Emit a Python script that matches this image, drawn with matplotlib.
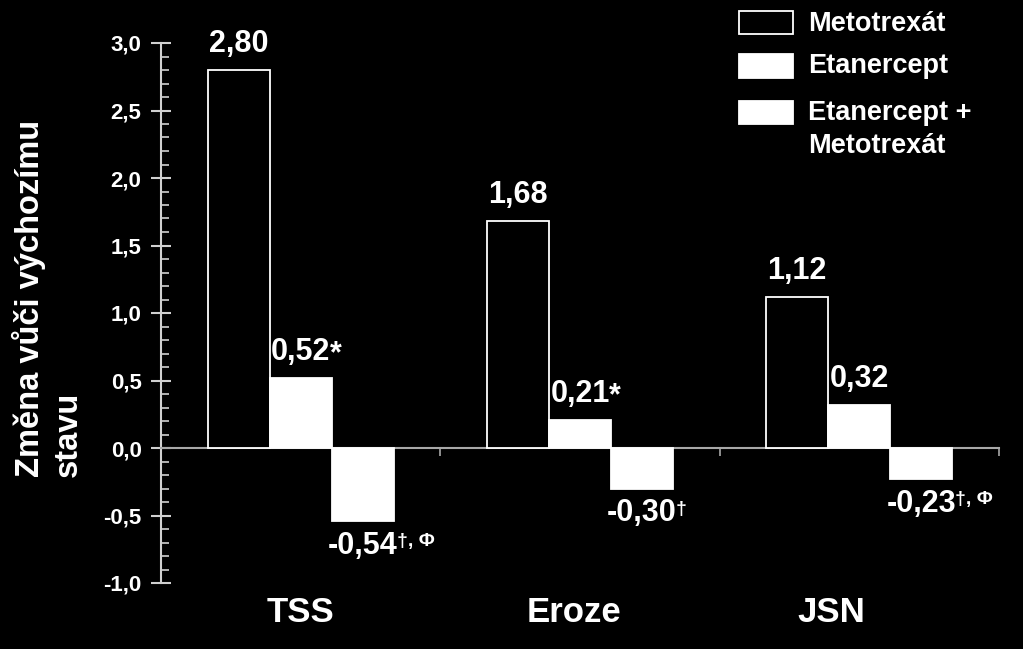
import matplotlib
matplotlib.use("Agg")
import matplotlib.pyplot as plt
from matplotlib.patches import Rectangle
from matplotlib.ticker import MultipleLocator, FuncFormatter
import numpy as np

# ---------------- data ----------------
categories = ["TSS", "Eroze", "JSN"]
series_names = ["Metotrexát", "Etanercept", "Etanercept +\nMetotrexát"]
metotrexat = [2.80, 1.68, 1.12]
etanercept = [0.52, 0.21, 0.32]
etanercept_mtx = [-0.54, -0.30, -0.23]
label_main = [["2,80", "0,52", "-0,54"],
              ["1,68", "0,21", "-0,30"],
              ["1,12", "0,32", "-0,23"]]
label_sup = [["", "*", "†, Φ"],
             ["", "*", "†"],
             ["", "", "†, Φ"]]
y_label = "Změna vůči výchozímu\nstavu"

# ---------------- style ----------------
plt.rcParams['font.family'] = ['Liberation Sans', 'DejaVu Sans']
plt.rcParams['font.weight'] = 'bold'
W, H = 1023, 649
fig = plt.figure(figsize=(W / 100, H / 100), dpi=100, facecolor='black')
ax = fig.add_axes([161 / W, 1 - 583 / H, (999 - 161) / W, (583 - 43) / H])
ax.set_facecolor('black')

x = np.arange(len(categories))
bw = 62 / 279
series = [metotrexat, etanercept, etanercept_mtx]
faces = ['black', 'white', 'white']
for i, (vals, fc) in enumerate(zip(series, faces)):
    ax.bar(x + (i - 1) * bw, vals, width=bw, facecolor=fc,
           edgecolor='white', linewidth=1.3, zorder=3)

ax.set_xlim(-0.5, 2.5)
ax.set_ylim(-1.0, 3.0)

# spines
for s in ['top', 'right']:
    ax.spines[s].set_visible(False)
ax.spines['left'].set_color('#d0d0d0')
ax.spines['left'].set_linewidth(1.5)
ax.spines['bottom'].set_position(('data', 0))
ax.spines['bottom'].set_color('#a8a8a8')
ax.spines['bottom'].set_linewidth(1.5)

# y ticks
ax.yaxis.set_major_locator(MultipleLocator(0.5))
ax.yaxis.set_minor_locator(MultipleLocator(0.1))
ax.yaxis.set_major_formatter(FuncFormatter(lambda v, p: f"{v:.1f}".replace('.', ',')))
ax.tick_params(axis='y', which='major', direction='inout', length=14, width=1.5,
               color='#d0d0d0', labelcolor='white', labelsize=16, pad=7)
ax.tick_params(axis='y', which='minor', direction='in', length=6, width=1.2,
               color='#d0d0d0')

# x ticks: separators at y=0
ax.set_xticks([0.5, 1.5, 2.5])
ax.set_xticklabels([])
ax.tick_params(axis='x', which='major', direction='out', length=6, width=1.2,
               color='#a8a8a8')
ax.tick_params(axis='x', which='minor', length=0)

# category labels
nudge = [0.0, -0.02, -0.1]
for xi, cat, n in zip(x, categories, nudge):
    ax.text(xi + n, -0.025, cat, transform=ax.get_xaxis_transform(),
            ha='center', va='top', color='white', fontsize=25, fontweight='bold')

# value labels
for gi in range(len(categories)):
    for si, vals in enumerate(series):
        v = vals[gi]
        xp = x[gi] + (si - 1) * bw
        if v >= 0:
            t = ax.annotate(label_main[gi][si], (xp, v), xytext=(0, 8),
                            textcoords='offset points', ha='center', va='bottom',
                            color='white', fontsize=22, fontweight='bold')
        else:
            t = ax.annotate(label_main[gi][si], (xp, v), xytext=(0, -7),
                            textcoords='offset points', ha='center', va='top',
                            color='white', fontsize=22, fontweight='bold')
        sup = label_sup[gi][si]
        if sup:
            if sup == "*":
                ax.annotate(sup, xy=(0.99, 0.9), xycoords=t, ha='left', va='top',
                            color='white', fontsize=22, fontweight='bold')
            else:
                ax.annotate(sup, xy=(0.985, 0.92), xycoords=t, ha='left', va='top',
                            color='white', fontsize=14, fontweight='bold')

# y label
fig.text(48 / W, 1 - 298 / H, y_label, rotation=90, ha='center', va='center',
         multialignment='left', color='white', fontsize=23.5, fontweight='bold',
         linespacing=1.26)

# legend (manual)
leg_boxes = [(739, 11, 54, 23), (739, 54, 54, 24), (739, 101, 54, 23)]
leg_text_y = [24, 66, 100]
leg_va = ['center', 'center', 'top']
for (bx, by, bw_, bh), name, fc, ty, va in zip(leg_boxes, series_names, faces,
                                               leg_text_y, leg_va):
    fig.add_artist(Rectangle((bx / W, 1 - (by + bh) / H), bw_ / W, bh / H,
                             transform=fig.transFigure, facecolor=fc,
                             edgecolor='white', linewidth=1.3))
    fig.text(808 / W, 1 - ty / H, name, ha='left', va=va, color='white',
             fontsize=19.5, fontweight='bold', linespacing=1.33)

fig.savefig('out.png', dpi=100, facecolor='black')
